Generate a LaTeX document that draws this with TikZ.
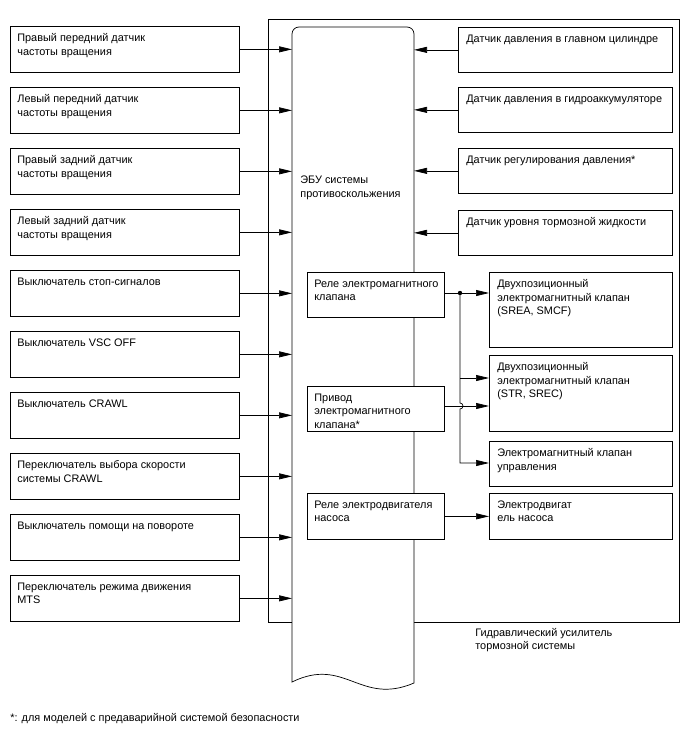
\documentclass[tikz,border=0pt]{standalone}
\usepackage{fontspec}
\setmainfont{Liberation Sans}
\usetikzlibrary{arrows.meta,positioning}
\begin{document}
\begin{tikzpicture}[x=1pt,y=-1pt,line width=0.7pt,
    arr/.style={-{Triangle[length=13pt,width=6pt]}},
    lbox/.style={draw,fill=white,anchor=north west,inner sep=0pt,minimum width=229pt,minimum height=46pt},
    rbox/.style={draw,fill=white,anchor=north west,inner sep=0pt,minimum width=214pt,minimum height=45pt},
    ubox/.style={draw,fill=white,anchor=north west,inner sep=0pt,minimum width=137pt,minimum height=45pt},
    vbox/.style={draw,fill=white,anchor=north west,inner sep=0pt,minimum width=183pt},
    txt/.style={anchor=north west,align=left,inner sep=0pt,font=\fontsize{10.9}{13.5}\selectfont}]
  \useasboundingbox (0,0) rectangle (688,755);
  %
  % Hydraulic booster and ECU:
  \draw (268,19) rectangle (679,622);
  \draw[fill=white] (292,682) -- (292,34) arc[start angle=180,end angle=90,radius=7pt]
      -- (407,27) arc[start angle=90,end angle=0,radius=7pt]
      -- (414,683) .. controls (360,706) and (345,656) .. (292,682) -- cycle;
  \coordinate (ecuL) at (292,0);
  \coordinate (ecuR) at (414,0);
  \node[txt] (ecu) at (300,176) {ЭБУ системы\\противоскольжения};
  \node[txt] (booster) at (475,628) {Гидравлический усилитель\\тормозной системы};
  %
  % Inputs (left):
  \node[lbox] (l1) at (10,26) {};
  \node[lbox] (l2) at (10,87) {};
  \node[lbox] (l3) at (10,148) {};
  \node[lbox] (l4) at (10,209) {};
  \node[lbox] (l5) at (10,270) {};
  \node[lbox] (l6) at (10,331) {};
  \node[lbox] (l7) at (10,392) {};
  \node[lbox] (l8) at (10,453) {};
  \node[lbox] (l9) at (10,514) {};
  \node[lbox] (l10) at (10,575) {};
  \node[txt] (tl1) at ([shift={(7,7.5)}]l1.north west) {Правый передний датчик\\частоты вращения};
  \node[txt] (tl2) at ([shift={(7,7.5)}]l2.north west) {Левый передний датчик\\частоты вращения};
  \node[txt] (tl3) at ([shift={(7,7.5)}]l3.north west) {Правый задний датчик\\частоты вращения};
  \node[txt] (tl4) at ([shift={(7,7.5)}]l4.north west) {Левый задний датчик\\частоты вращения};
  \node[txt] (tl5) at ([shift={(7,7.5)}]l5.north west) {Выключатель стоп-сигналов};
  \node[txt] (tl6) at ([shift={(7,7.5)}]l6.north west) {Выключатель VSC OFF};
  \node[txt] (tl7) at ([shift={(7,7.5)}]l7.north west) {Выключатель CRAWL};
  \node[txt] (tl8) at ([shift={(7,7.5)}]l8.north west) {Переключатель выбора скорости\\системы CRAWL};
  \node[txt] (tl9) at ([shift={(7,7.5)}]l9.north west) {Выключатель помощи на повороте};
  \node[txt] (tl10) at ([shift={(7,7.5)}]l10.north west) {Переключатель режима движения\\MTS};
  \draw[arr] (l1.east) -- (l1.east -| ecuL);
  \draw[arr] (l2.east) -- (l2.east -| ecuL);
  \draw[arr] (l3.east) -- (l3.east -| ecuL);
  \draw[arr] (l4.east) -- (l4.east -| ecuL);
  \draw[arr] (l5.east) -- (l5.east -| ecuL);
  \draw[arr] (l6.east) -- (l6.east -| ecuL);
  \draw[arr] (l7.east) -- (l7.east -| ecuL);
  \draw[arr] (l8.east) -- (l8.east -| ecuL);
  \draw[arr] (l9.east) -- (l9.east -| ecuL);
  \draw[arr] (l10.east) -- (l10.east -| ecuL);
  %
  % Inputs (right):
  \node[rbox] (r1) at (458,27) {};
  \node[rbox] (r2) at (458,87) {};
  \node[rbox] (r3) at (458,148) {};
  \node[rbox] (r4) at (458,210) {};
  \node[txt] (tr1) at ([shift={(8,7.5)}]r1.north west) {Датчик давления в главном цилиндре};
  \node[txt] (tr2) at ([shift={(8,7.5)}]r2.north west) {Датчик давления в гидроаккумуляторе};
  \node[txt] (tr3) at ([shift={(8,7.5)}]r3.north west) {Датчик регулирования давления*};
  \node[txt] (tr4) at ([shift={(8,7.5)}]r4.north west) {Датчик уровня тормозной жидкости};
  \draw[arr] (r1.west) -- (r1.west -| ecuR);
  \draw[arr] (r2.west) -- (r2.west -| ecuR);
  \draw[arr] (r3.west) -- (r3.west -| ecuR);
  \draw[arr] (r4.west) -- (r4.west -| ecuR);
  %
  % Outputs:
  \node[ubox] (rel) at (307,272) {};
  \node[ubox] (priv) at (307,386) {};
  \node[ubox,minimum height=46pt] (pump) at (307,493) {};
  \node[txt] (trel) at ([shift={(7,7.5)}]rel.north west) {Реле электромагнитного\\клапана};
  \node[txt] (tpriv) at ([shift={(7,7.5)}]priv.north west) {Привод\\электромагнитного\\клапана*};
  \node[txt] (tpump) at ([shift={(7,7.5)}]pump.north west) {Реле электродвигателя\\насоса};
  \node[vbox,minimum height=75pt] (va) at (489,272) {};
  \node[vbox,minimum height=76pt] (vb) at (489,355) {};
  \node[vbox,minimum height=45pt] (vc) at (489,441) {};
  \node[vbox,minimum height=46pt] (vd) at (489,493) {};
  \node[txt] (tva) at ([shift={(8,7.5)}]va.north west) {Двухпозиционный\\электромагнитный клапан\\(SREA, SMCF)};
  \node[txt] (tvb) at ([shift={(8,7.5)}]vb.north west) {Двухпозиционный\\электромагнитный клапан\\(STR, SREC)};
  \node[txt] (tvc) at ([shift={(8,7.5)}]vc.north west) {Электромагнитный клапан\\управления};
  \node[txt] (tvd) at ([shift={(8,7.5)}]vd.north west) {Электродвигат\\ель насоса};
  \coordinate (split) at (460,293);
  \coordinate (tapB) at (460,378);
  \coordinate (jmp) at (460,406);
  \coordinate (tapC) at (460,463);
  \draw (rel.east |- split) -- (split);
  \fill (split) circle (2.2pt);
  \draw[arr] (split) -- (split -| va.west);
  \draw[arr] (tapB) -- (tapB -| vb.west);
  \draw[arr] (split) -- ([yshift=3pt]jmp) arc[start angle=90,end angle=-90,radius=3pt]
      -- (tapC) -- (tapC -| vc.west);
  \draw[arr] (priv.east |- jmp) -- (jmp -| vb.west);
  \draw[arr] (pump.east) -- (pump.east -| vd.west);
  %
  % Footnote:
  \node[txt,anchor=west] (note) at (10,719) {*: для моделей с предаварийной системой безопасности};
\end{tikzpicture}
\end{document}
